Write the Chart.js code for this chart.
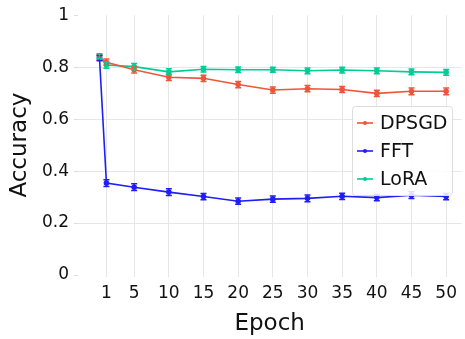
<!DOCTYPE html>
<html>
<head>
<meta charset="utf-8">
<script src="https://cdn.jsdelivr.net/npm/chart.js@4.4.1/dist/chart.umd.min.js"></script>
<style>
  html, body { margin: 0; padding: 0; background: #fff; }
  #wrap { width: 465px; height: 339px; }
</style>
</head>
<body>
<div id="wrap"><canvas id="c" width="465" height="339"></canvas></div>
<script>
// Werte
const epochs = [0, 1, 5, 10, 15, 20, 25, 30, 35, 40, 45, 50];
const xTicks = [1, 5, 10, 15, 20, 25, 30, 35, 40, 45, 50];
const yTicks = [0, 0.2, 0.4, 0.6, 0.8, 1];

const dpsgd    = [0.838, 0.819, 0.790, 0.761, 0.757, 0.733, 0.712, 0.717, 0.714, 0.699, 0.707, 0.707];
const dpsgdErr = [0.010, 0.012, 0.012, 0.012, 0.012, 0.012, 0.012, 0.012, 0.012, 0.012, 0.013, 0.013];
const fft      = [0.835, 0.354, 0.338, 0.319, 0.302, 0.284, 0.292, 0.295, 0.303, 0.298, 0.307, 0.302];
const fftErr   = [0.010, 0.013, 0.013, 0.013, 0.012, 0.012, 0.012, 0.013, 0.012, 0.012, 0.013, 0.012];
const lora     = [0.842, 0.808, 0.802, 0.782, 0.792, 0.790, 0.790, 0.786, 0.789, 0.786, 0.782, 0.780];
const loraErr  = [0.010, 0.012, 0.012, 0.012, 0.011, 0.011, 0.010, 0.011, 0.011, 0.011, 0.011, 0.011];

const FONT = 'DejaVu Sans';

function mkSet(label, vals, errs, color) {
    return {
        label: label,
        data: epochs.map((e, i) => ({ x: e, y: vals[i] })),
        errors: errs,
        borderColor: color,
        backgroundColor: color,
        borderWidth: 1.6,
        pointRadius: 2,
        pointHoverRadius: 2,
        fill: false,
        tension: 0
    };
}

// Fehlerbalken ueber die Skalen zeichnen
const errorBars = {
    id: 'errorBars',
    afterDatasetsDraw(chart) {
        const ctx = chart.ctx;
        const ys = chart.scales.y;
        chart.data.datasets.forEach((ds, di) => {
            const meta = chart.getDatasetMeta(di);
            ctx.save();
            ctx.strokeStyle = ds.borderColor;
            ctx.lineWidth = 1.5;
            meta.data.forEach((pt, i) => {
                const v = ds.data[i].y, e = ds.errors[i];
                const y1 = ys.getPixelForValue(v - e), y2 = ys.getPixelForValue(v + e);
                ctx.beginPath();
                ctx.moveTo(pt.x, y1); ctx.lineTo(pt.x, y2);
                ctx.moveTo(pt.x - 3, y1); ctx.lineTo(pt.x + 3, y1);
                ctx.moveTo(pt.x - 3, y2); ctx.lineTo(pt.x + 3, y2);
                ctx.stroke();
            });
            ctx.restore();
        });
    }
};

// eigene Legende im Plotbereich
const boxLegend = {
    id: 'boxLegend',
    afterDraw(chart) {
        const ctx = chart.ctx;
        const x0 = 352, y0 = 106, w = 100, h = 89;
        ctx.save();
        ctx.fillStyle = 'rgba(255,255,255,0.85)';
        ctx.strokeStyle = '#dddddd';
        ctx.lineWidth = 1;
        ctx.beginPath();
        ctx.roundRect(x0 + 0.5, y0 + 0.5, w, h, 3);
        ctx.fill();
        ctx.stroke();
        ctx.font = '19px "' + FONT + '"';
        ctx.textBaseline = 'middle';
        chart.data.datasets.forEach((ds, i) => {
            const cy = y0 + 17 + i * 28;
            ctx.strokeStyle = ds.borderColor;
            ctx.fillStyle = ds.borderColor;
            ctx.lineWidth = 1.6;
            ctx.beginPath();
            ctx.moveTo(x0 + 5, cy); ctx.lineTo(x0 + 21, cy);
            ctx.stroke();
            ctx.beginPath();
            ctx.arc(x0 + 13, cy, 2, 0, Math.PI * 2);
            ctx.fill();
            ctx.fillStyle = '#111';
            ctx.fillText(ds.label, x0 + 28, cy + 1);
        });
        ctx.restore();
    }
};

new Chart(document.getElementById('c'), {
    type: 'line',
    data: {
        datasets: [
            mkSet('DPSGD', dpsgd, dpsgdErr, '#ef553b'),
            mkSet('FFT', fft, fftErr, '#1e1ef5'),
            mkSet('LoRA', lora, loraErr, '#00cc96')
        ]
    },
    options: {
        responsive: false,
        animation: false,
        layout: { padding: { top: 15, right: 0, left: 0, bottom: 0 } },
        plugins: { legend: { display: false }, tooltip: { enabled: false } },
        scales: {
            x: {
                type: 'linear',
                min: -3.1,
                max: 52.2,
                afterBuildTicks: (s) => { s.ticks = xTicks.map(v => ({ value: v })); },
                afterFit: (s) => { s.height = 64; },
                border: { display: false },
                grid: { color: '#e6e6e6', tickColor: '#e6e6e6', tickLength: 2, lineWidth: 1 },
                ticks: { color: '#111', font: { family: FONT, size: 17 }, padding: 6, maxRotation: 0, autoSkip: false },
                title: { display: true, text: 'Epoch', color: '#111', font: { family: FONT, size: 23 }, padding: { top: 0, bottom: 1 } }
            },
            y: {
                min: 0,
                max: 1,
                afterBuildTicks: (s) => { s.ticks = yTicks.map(v => ({ value: v })); },
                afterFit: (s) => { s.width = 78; },
                border: { display: false },
                grid: {
                    color: (c) => (c.tick && (c.tick.value === 0 || c.tick.value === 1)) ? 'rgba(0,0,0,0)' : '#e6e6e6',
                    tickColor: '#dddddd',
                    tickLength: 4,
                    lineWidth: 1
                },
                ticks: { color: '#111', font: { family: FONT, size: 17 }, padding: 5, callback: (v) => String(v) },
                title: { display: true, text: 'Accuracy', color: '#111', font: { family: FONT, size: 23 }, padding: { top: 6, bottom: 0 } }
            }
        }
    },
    plugins: [errorBars, boxLegend]
});
</script>
</body>
</html>
